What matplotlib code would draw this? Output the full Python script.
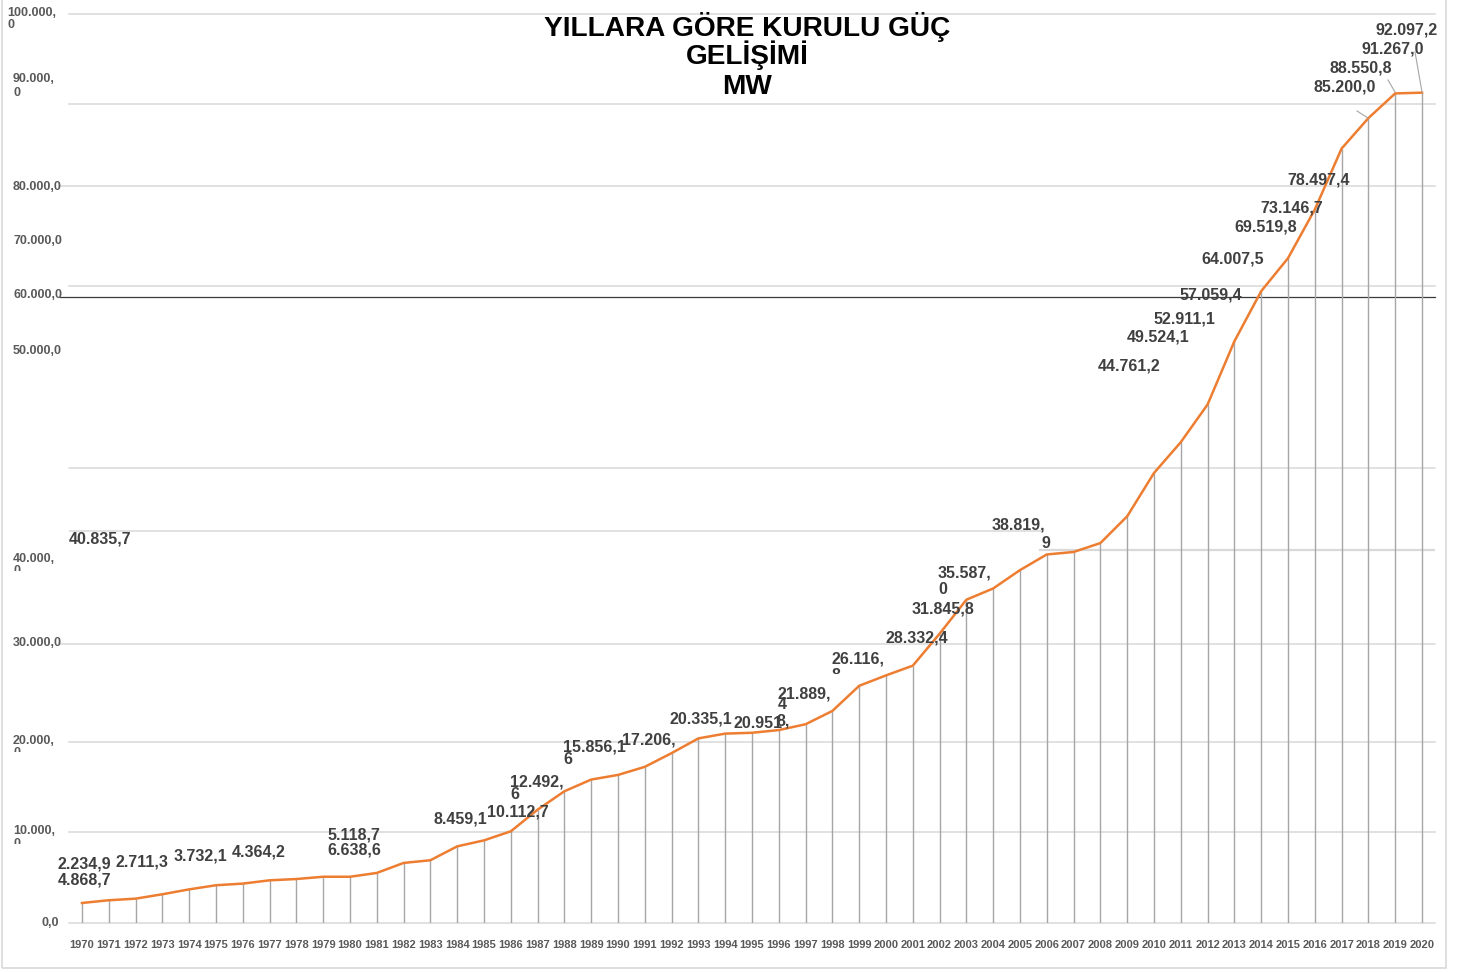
import matplotlib
matplotlib.use("Agg")
import matplotlib.pyplot as plt
from matplotlib.lines import Line2D
from matplotlib.patches import Rectangle
from matplotlib.transforms import Bbox

# installed capacity by year (MW)
years = list(range(1970, 2021))
capacity = [2234.9, 2534.9, 2711.3, 3193.7, 3732.1, 4186.6, 4364.2, 4727.1, 4868.7, 5118.7,
            5118.7, 5537.6, 6638.6, 6935.1, 8461.6, 9121.6, 10115.2, 12495.1, 14520.6, 15808.3,
            16317.6, 17206.3, 18716.1, 20337.6, 20859.8, 20954.3, 21249.4, 21891.9, 23354.0, 26119.3,
            27264.1, 28332.4, 31845.8, 35587.0, 36824.0, 38843.5, 40564.8, 40835.7, 41817.2, 44761.2,
            49524.1, 52911.1, 57059.4, 64007.5, 69519.8, 73146.7, 78497.4, 85200.0, 88550.8, 91267.0,
            91350.0]

title_lines = ["YILLARA GÖRE KURULU GÜÇ", "GELİŞİMİ", "MW"]

# y axis labels as they appear (text, left x px, centre y px)
ylabels = [("100.000,", 7, 12), ("0", 7, 24), ("90.000,", 13, 77), ("0", 13, 92),
           ("80.000,0", 13, 185), ("70.000,0", 13, 240), ("60.000,0", 13, 294),
           ("50.000,0", 13, 349), ("40.000,", 13, 557), ("30.000,0", 13, 642),
           ("20.000,", 13, 739), ("10.000,", 13, 830), ("0,0", 42, 921)]
# second line "0" that is cut in half (text, x, centre y, clip bottom y)
ylabels_cut = [("0", 13, 569.5, 570.5), ("0", 13, 751, 752), ("0", 13, 842, 843.5)]

# data labels (text, left x px, centre y px)
labels = [("2.234,9", 58, 863), ("4.868,7", 58, 879), ("2.711,3", 116, 861),
          ("3.732,1", 174, 855), ("4.364,2", 232, 851), ("5.118,7", 327, 834),
          ("6.638,6", 327, 849), ("8.459,1", 433, 818), ("10.112,7", 487, 811),
          ("12.492,", 510, 781), ("6", 510, 793), ("15.856,1", 563, 746), ("6", 563, 758),
          ("17.206,", 622, 739), ("20.335,1", 670, 718), ("20.951", 733, 722),
          ("8,", 777, 720), ("21.889,", 778, 693), ("4", 778, 703),
          ("26.116,", 832, 658), ("28.332,4", 885, 637), ("31.845,8", 912, 608),
          ("35.587,", 938, 572), ("0", 938, 588), ("38.819,", 992, 524), ("9", 1041, 542),
          ("40.835,7", 69, 538), ("44.761,2", 1098, 365), ("49.524,1", 1127, 336),
          ("52.911,1", 1153, 318), ("57.059,4", 1180, 294), ("64.007,5", 1201, 258),
          ("69.519,8", 1234, 226), ("73.146,7", 1260, 207), ("78.497,4", 1287, 179),
          ("85.200,0", 1314, 86), ("88.550,8", 1329, 67), ("91.267,0", 1361, 48),
          ("92.097,2", 1376, 29)]
labels_cut = [("8", 832, 674, 673.5)]
leaders = [((1357, 111), (1368, 118)), ((1388, 80), (1395, 92)), ((1415, 52), (1422, 92))]

W, H = 1464, 972
FONT = "Liberation Sans"


def fx(x):
    return x / W


def fy(y):
    return 1 - y / H


fig = plt.figure(figsize=(W / 100, H / 100), dpi=100)
fig.patch.set_facecolor("white")

left, right, top, bottom = 68.6, 1435.4, 14.0, 923.3
ax = fig.add_axes([fx(left), fy(bottom), (right - left) / W, (bottom - top) / H])
ax.set_xlim(1969.5, 2020.5)
ax.set_ylim(0, 100000)
for s in ax.spines.values():
    s.set_visible(False)
ax.set_yticks([])

# grid lines, placed where the original has them
grid_full = [0, 10000, 19980, 30680, 50070, 70090, 81120, 90070, 100000]
for g in grid_full:
    xmin = -0.0063 if g in (30680, 81120) else 0
    ax.axhline(g, xmin=xmin, xmax=1, color="#d9d9d9", lw=1.1, zorder=1, clip_on=False)
ax.axhline(43140, xmin=0, xmax=(1043 - left) / (right - left), color="#d9d9d9", lw=1.1, zorder=1)
ax.axhline(41050, xmin=(1040 - left) / (right - left), xmax=1, color="#d9d9d9", lw=1.6, zorder=1)
ax.axhline(68910, xmin=-0.0063, xmax=1, color="#3a3a3a", lw=0.9, zorder=1, clip_on=False)

ax.vlines(years, 0, capacity, color="#a6a6a6", lw=1.0, zorder=2)
ax.plot(years, capacity, color="#ED7D31", lw=1.8, zorder=3)

ax.set_xticks(years)
ax.set_xticklabels([str(y) for y in years], fontsize=8, fontweight="bold",
                   color="#595959", family=FONT)
ax.tick_params(axis="x", length=0, pad=12.3)

for i, line in enumerate(title_lines):
    fig.text(fx(747), fy([36, 64, 94][i]), line, ha="center", va="baseline",
             fontsize=20.2, fontweight="bold", color="black", family=FONT)

for txt, x, y in ylabels:
    fig.text(fx(x), fy(y + 4.5), txt, ha="left", va="baseline", fontsize=9,
             fontweight="bold", color="#595959", family=FONT)
for txt, x, y, cut in ylabels_cut:
    t = fig.text(fx(x), fy(y + 4.5), txt, ha="left", va="baseline", fontsize=9,
                 fontweight="bold", color="#595959", family=FONT)
    t.set_clip_box(Bbox.from_extents(0, H - cut, W, H))
    t.set_clip_on(True)

for txt, x, y in labels:
    fig.text(fx(x), fy(y + 5.7), txt, ha="left", va="baseline", fontsize=11.5,
             fontweight="bold", color="#404040", family=FONT, zorder=5)
for txt, x, y, cut in labels_cut:
    t = fig.text(fx(x), fy(y + 5.7), txt, ha="left", va="baseline", fontsize=11.5,
                 fontweight="bold", color="#404040", family=FONT, zorder=5)
    t.set_clip_box(Bbox.from_extents(0, H - cut, W, H))
    t.set_clip_on(True)

for (x0, y0), (x1, y1) in leaders:
    fig.add_artist(Line2D([fx(x0), fx(x1)], [fy(y0), fy(y1)], color="#a6a6a6", lw=0.8))

# outer chart border
fig.add_artist(Rectangle((fx(1.5), fy(968)), fx(1444.5), 1, fill=False,
                         edgecolor="#d9d9d9", lw=1.2))

fig.savefig("out.png", dpi=100)
